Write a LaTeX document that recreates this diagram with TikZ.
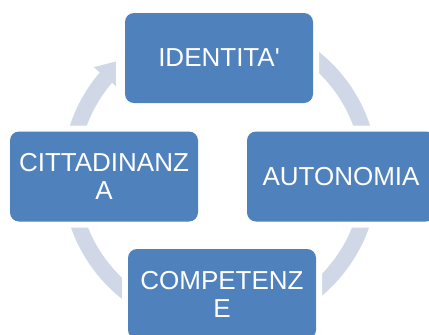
\documentclass[tikz,border=0pt]{standalone}
\usepackage{fontspec}
\setmainfont{Liberation Sans}[Ligatures=TeXOff]
\usetikzlibrary{calc}
\definecolor{boxblue}{HTML}{4F81BD}
\definecolor{ringcol}{HTML}{D0D8E8}
\begin{document}
\begin{tikzpicture}[x=1pt,y=1pt,
  blockbox/.style={fill=boxblue, rounded corners=9pt, minimum width=188pt,
    minimum height=90pt, inner sep=0pt, text=white,
    font=\fontsize{26}{28}\selectfont, align=center,
    preaction={draw=white, line width=12pt}},
  ringpart/.style={ringcol, line width=16pt}
]
\useasboundingbox (0,0) rectangle (429,-335);
\clip (0,0) rectangle (429,-335);
\coordinate (c) at (220,-175);
% ring shaft
\draw[ringpart] ($(c)+(139:150)$) arc[start angle=139, end angle=470, radius=150];
% arrow head
\fill[ringcol] ($(c)+(139.5:166)$) -- ($(c)+(132.5:154)$) -- ($(c)+(139.5:137)$) -- cycle;
% boxes
\node[blockbox] (ident) at (219,-58) {IDENTITA'};
\node[blockbox] (auton) at (341,-176.5) {AUTONOMIA};
\node[blockbox] (citt) at (104,-176.5) {CITTADINANZ\\A};
\node[blockbox] (comp) at (222,-294) {COMPETENZ\\E};
\end{tikzpicture}
\end{document}
